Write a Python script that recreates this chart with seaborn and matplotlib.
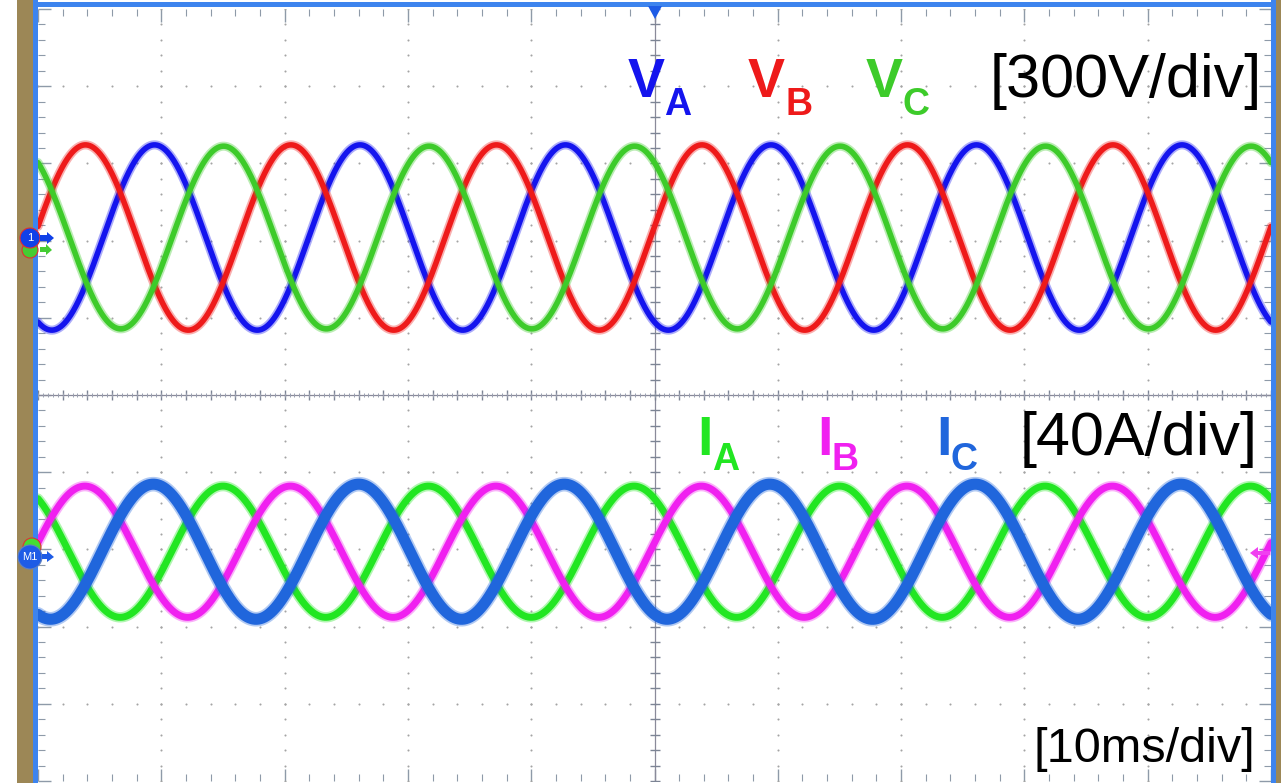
import numpy as np
import pandas as pd
import matplotlib
matplotlib.use("Agg")
import matplotlib.pyplot as plt
import seaborn as sns
from matplotlib.patches import Circle, Polygon

# ---- scope settings ----
ms_per_div = 10
volt_per_div = 300
amp_per_div = 40
line_freq_hz = 60

# ---- phase voltages ----
v_labels = ["A", "B", "C"]
v_peak_volts = [360, 360, 355]
v_first_peak_ms = [9.45, 3.85, 15.05]
v_colors = ["#1414EE", "#EE1A1A", "#3DCB2A"]
v_offset_div = 2.04

# ---- phase currents ----
i_labels = ["A", "B", "C"]
i_peak_amps = [34, 34, 35]
i_first_peak_ms = [15.0, 3.8, 9.35]
i_colors = ["#22E622", "#F020F0", "#2066DC"]
i_offset_div = -2.03

W, H, DPI = 1281, 783, 100
AX_L, AX_R, AX_T, AX_B = 38, 1271, 9, 781          # plot window in pixels

sns.set_style("white")
plt.rcParams["font.family"] = ["Liberation Sans", "DejaVu Sans"]

fig = plt.figure(figsize=(W / DPI, H / DPI), dpi=DPI)
ax = fig.add_axes([AX_L / W, 1 - AX_B / H, (AX_R - AX_L) / W, (AX_B - AX_T) / H])
ax.set_xlim(0, 10 * ms_per_div)
ax.set_ylim(-5, 5)

# ---- graticule ----
grid_col = "#A4A4A4"
maj_x = np.arange(0, 101, ms_per_div)
maj_y = np.arange(-5, 6, 1)
min_x = np.arange(0, 100.01, ms_per_div / 5)
min_y = np.arange(-5, 5.01, 0.2)

for gx in maj_x[1:-1]:
    if gx == 50:
        continue
    ax.plot(np.full_like(min_y, gx), min_y, ls="none", marker="o", ms=1.5,
            color=grid_col, mew=0, zorder=1)
for gy in maj_y[1:-1]:
    if gy == 0:
        continue
    ax.plot(min_x, np.full_like(min_x, gy), ls="none", marker="o", ms=1.5,
            color=grid_col, mew=0, zorder=1)

ax.axhline(0, color="#8A8A9A", lw=0.9, zorder=1)
ax.axvline(50, color="#8A8A9A", lw=0.9, zorder=1)
ax.plot(min_x, np.zeros_like(min_x), ls="none", marker="|", ms=7, mew=1.0,
        color="#7C8494", zorder=1)
fine_x = np.arange(0, 100.01, ms_per_div / 25)
ax.plot(fine_x, np.zeros_like(fine_x), ls="none", marker="|", ms=3, mew=0.7,
        color="#9AA0B0", zorder=1)
ax.plot(np.full_like(min_y, 50), min_y, ls="none", marker="_", ms=7, mew=1.0,
        color="#7C8494", zorder=1)

ax.set_xticks(maj_x)
ax.set_yticks(maj_y)
ax.set_xticks(min_x, minor=True)
ax.set_yticks(min_y, minor=True)
ax.tick_params(which="both", direction="in", top=True, right=True, bottom=True,
               left=True, labelbottom=False, labelleft=False, color="#8E9AA8")
ax.tick_params(which="major", length=9, width=1.0)
ax.tick_params(which="minor", length=5, width=0.8)
for s in ax.spines.values():
    s.set_visible(False)

# ---- waveforms ----
t_ms = np.linspace(0, 100, 6000)
w = 2 * np.pi * line_freq_hz / 1000.0

def trace(peak, t_peak, per_div, offset):
    return peak * np.cos(w * (t_ms - t_peak)) / per_div + offset

for lab, pk, tp, col in zip(v_labels, v_peak_volts, v_first_peak_ms, v_colors):
    df = pd.DataFrame({"t": t_ms, "y": trace(pk, tp, volt_per_div, v_offset_div)})
    sns.lineplot(data=df, x="t", y="y", ax=ax, color=col, lw=6.5, alpha=0.35,
                 estimator=None, sort=False, zorder=3)
    sns.lineplot(data=df, x="t", y="y", ax=ax, color=col, lw=4.0,
                 estimator=None, sort=False, zorder=3)

i_widths = [5.0, 5.0, 8.0]
for lab, pk, tp, col, lw in zip(i_labels, i_peak_amps, i_first_peak_ms, i_colors, i_widths):
    df = pd.DataFrame({"t": t_ms, "y": trace(pk, tp, amp_per_div, i_offset_div)})
    sns.lineplot(data=df, x="t", y="y", ax=ax, color=col, lw=lw + 2.5, alpha=0.35,
                 estimator=None, sort=False, zorder=3)
    sns.lineplot(data=df, x="t", y="y", ax=ax, color=col, lw=lw,
                 estimator=None, sort=False, zorder=3)
ax.set_xlabel("")
ax.set_ylabel("")

# ---- labels ----
def px(x, y):
    return ((x - AX_L) / (AX_R - AX_L) * 100, 5 - (y - AX_T) / (AX_B - AX_T) * 10)

def phase_label(letter, sub, color, x_main, x_sub, y_main, y_sub, size, subsize):
    ax.text(*px(x_main, y_main), letter, color=color, fontsize=size,
            fontweight="bold", ha="left", va="baseline", zorder=5)
    ax.text(*px(x_sub, y_sub), sub, color=color, fontsize=subsize,
            fontweight="bold", ha="left", va="baseline", zorder=5)

v_main_x = [628, 748, 866]
v_sub_x = [664, 785, 903]
for lab, col, xm, xs in zip(v_labels, v_colors, v_main_x, v_sub_x):
    phase_label("V", lab, col, xm, xs, 97, 115, 40, 27)
ax.text(*px(1262, 97), f"[{volt_per_div}V/div]", fontsize=44, ha="right",
        va="baseline", color="black", zorder=5)

i_main_x = [697, 817, 936]
i_sub_x = [712, 832, 951]
for lab, col, xm, xs in zip(i_labels, i_colors, i_main_x, i_sub_x):
    phase_label("I", lab, col, xm, xs, 455, 470, 40, 27)
ax.text(*px(1258, 455), f"[{amp_per_div}A/div]", fontsize=44, ha="right",
        va="baseline", color="black", zorder=5)

ax.text(*px(1255, 762), f"[{ms_per_div}ms/div]", fontsize=35, ha="right",
        va="baseline", color="black", zorder=5)

# ---- instrument frame and markers (pixel positions, top-left origin) ----
def inch(x, y):
    return (x / DPI, (H - y) / DPI)

def add_poly(points, color, z):
    fig.add_artist(Polygon([inch(x, y) for x, y in points], closed=True,
                           transform=fig.dpi_scale_trans, color=color, lw=0, zorder=z))

def add_circle(x, y, r, fc, ec, z):
    fig.add_artist(Circle(inch(x, y), r / DPI, transform=fig.dpi_scale_trans,
                          fc=fc, ec=ec, lw=0.8, zorder=z))

def frame_rect(x0, y0, x1, y1, color):
    add_poly([(x0, y0), (x1, y0), (x1, y1), (x0, y1)], color, 10)

brown, blue = "#9C8756", "#3D84EE"
frame_rect(17, 0, 33, H, brown)
frame_rect(33, 0, 38, H, blue)
frame_rect(33, 2, 1277, 7, blue)
frame_rect(1271, 0, 1276, H, blue)
frame_rect(1276, 0, W, H, brown)

# trigger position marker
add_poly([(648, 6), (662, 6), (655, 19)], "#1E5CE6", 11)

# channel 1 reference marker
add_circle(30, 250, 8, "#44CC33", "#E03030", 11)
add_circle(30, 238, 10, "#1040E8", "#E03030", 12)
fig.text(30 / W, 1 - 238 / H, "1", color="white", fontsize=8, ha="center",
         va="center", zorder=13)
add_poly([(40, 235), (47, 235), (47, 232), (54, 238), (47, 244), (47, 241),
          (40, 241)], "#1040E8", 12)
add_poly([(40, 247), (46, 247), (46, 244), (52, 250), (46, 255), (46, 252),
          (40, 252)], "#44CC33", 11)

# math channel reference marker
add_circle(32, 547, 9, "#44DD33", "#E03030", 11)
add_circle(30, 557, 12, "#1E5CE6", "#6080C0", 12)
fig.text(30 / W, 1 - 557 / H, "M1", color="white", fontsize=8, ha="center",
         va="center", zorder=13)
add_poly([(42, 554), (47, 554), (47, 551), (54, 557), (47, 562), (47, 559),
          (42, 559)], "#1E5CE6", 12)

# reference arrow on the right edge
add_poly([(1250, 553), (1258, 547), (1258, 551), (1270, 551), (1270, 555),
          (1258, 555), (1258, 559)], "#F040F0", 11)

fig.savefig("out.png", dpi=DPI, facecolor="white")
